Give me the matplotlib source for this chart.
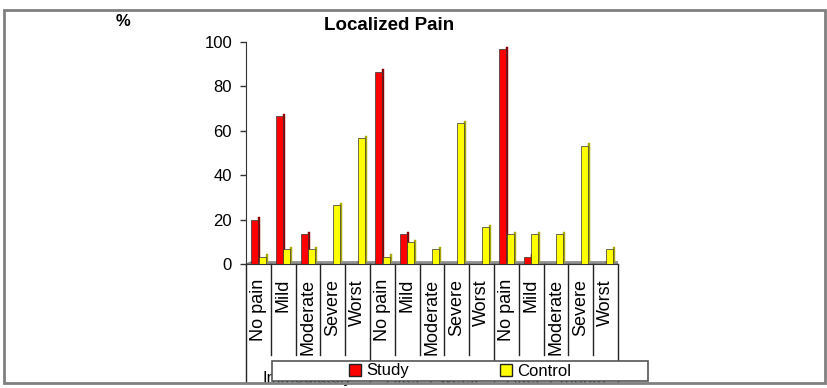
import matplotlib
matplotlib.use("Agg")
import matplotlib.pyplot as plt
import matplotlib.transforms as mtransforms
from matplotlib.patches import Patch, Rectangle, Polygon
import numpy as np

plt.rcParams["font.family"] = ["Liberation Sans", "DejaVu Sans"]

# Data (percent of patients)
pain_levels = ["No pain", "Mild", "Moderate", "Severe", "Worst"]
time_groups = ["Immediately", "After 1 week", "After 1 month"]
study = [20, 66.7, 13.3, 0, 0,
         86.7, 13.3, 0, 0, 0,
         96.7, 3.3, 0, 0, 0]
control = [3.3, 6.7, 6.7, 26.7, 56.7,
           3.3, 10, 6.7, 63.3, 16.7,
           13.3, 13.3, 13.3, 53.3, 6.7]
y_ticks = [0, 20, 40, 60, 80, 100]

W, H = 828, 388
fig = plt.figure(figsize=(W / 100, H / 100), dpi=100)
ax = fig.add_axes([246 / W, 1 - 264 / H, 372 / W, 222 / H])


def fy(py):
    # pixel row -> axes fraction
    return (264 - py) / 222


n = len(study)
x = np.arange(n) + 0.5
bw = 0.28
side = 0.08
lift = 1.0

# floor of the 3d plot
ax.add_patch(Polygon([(0, 0), (n, 0), (n + 0.2, lift), (0.2, lift)],
                     closed=True, fc="#9a9a9a", ec="#707070", lw=0.6, zorder=1))

for vals, off, face, dark in [(study, -0.15, "#ff0000", "#8a0000"),
                              (control, 0.15, "#ffff00", "#a8a800")]:
    xs = x + off
    ax.bar(xs + bw / 2 + side / 2, vals, width=side, bottom=lift,
           color=dark, edgecolor=dark, lw=0.3, zorder=2)
    ax.bar(xs, vals, width=bw, color=face, edgecolor="#333333", lw=0.5, zorder=3)

ax.set_xlim(0, n)
ax.set_ylim(0, 100)
ax.set_yticks(y_ticks)
ax.set_yticklabels([str(t) for t in y_ticks], fontsize=12)
ax.tick_params(axis="y", direction="out", length=4, width=1, color="#333333", pad=6)
ax.set_xticks([])
for s in ["top", "right"]:
    ax.spines[s].set_visible(False)
ax.spines["left"].set_color("#333333")
ax.spines["bottom"].set_color("#333333")

# category table below the axis
trans = mtransforms.blended_transform_factory(ax.transData, ax.transAxes)
for i in range(n + 1):
    low = fy(383) if i % 5 == 0 else fy(355)
    ax.plot([i, i], [0, low], color="#222222", lw=1, transform=trans, clip_on=False)
for i in range(n):
    ax.text(x[i], fy(279), pain_levels[i % 5], rotation=90, ha="center", va="top",
            fontsize=13, transform=trans, clip_on=False)
for g, name in enumerate(time_groups):
    ax.text(g * 5 + 2.5, fy(379), name, ha="center", va="center", fontsize=12,
            transform=trans, clip_on=False)

fig.text(389 / W, 1 - 25 / H, "Localized Pain", ha="center", va="center",
         fontsize=13.5, fontweight="bold")
fig.text(123 / W, 1 - 22 / H, "%", ha="center", va="center", fontsize=12,
         fontweight="bold")

# legend box covering group labels
fig.add_artist(Rectangle((272 / W, 1 - 381 / H), 376 / W, 20 / H,
                         transform=fig.transFigure, fc="white", ec="#555555",
                         lw=1.2, zorder=4))
handles = [Patch(fc="#ff0000", ec="#222222", label="Study"),
           Patch(fc="#ffff00", ec="#222222", label="Control")]
leg = fig.legend(handles=handles, loc="center", bbox_to_anchor=(460 / W, 1 - 371 / H),
                 ncol=2, frameon=False, fontsize=12, handlelength=0.7,
                 handleheight=0.7, handletextpad=0.3, columnspacing=5.5)
leg.set_zorder(5)

# outer chart frame
fig.add_artist(Rectangle((4 / W, 1 - 383 / H), 821 / W, 373 / H,
                         transform=fig.transFigure, fill=False, ec="#808080",
                         lw=2, zorder=6))

fig.savefig("out.png", dpi=100)
